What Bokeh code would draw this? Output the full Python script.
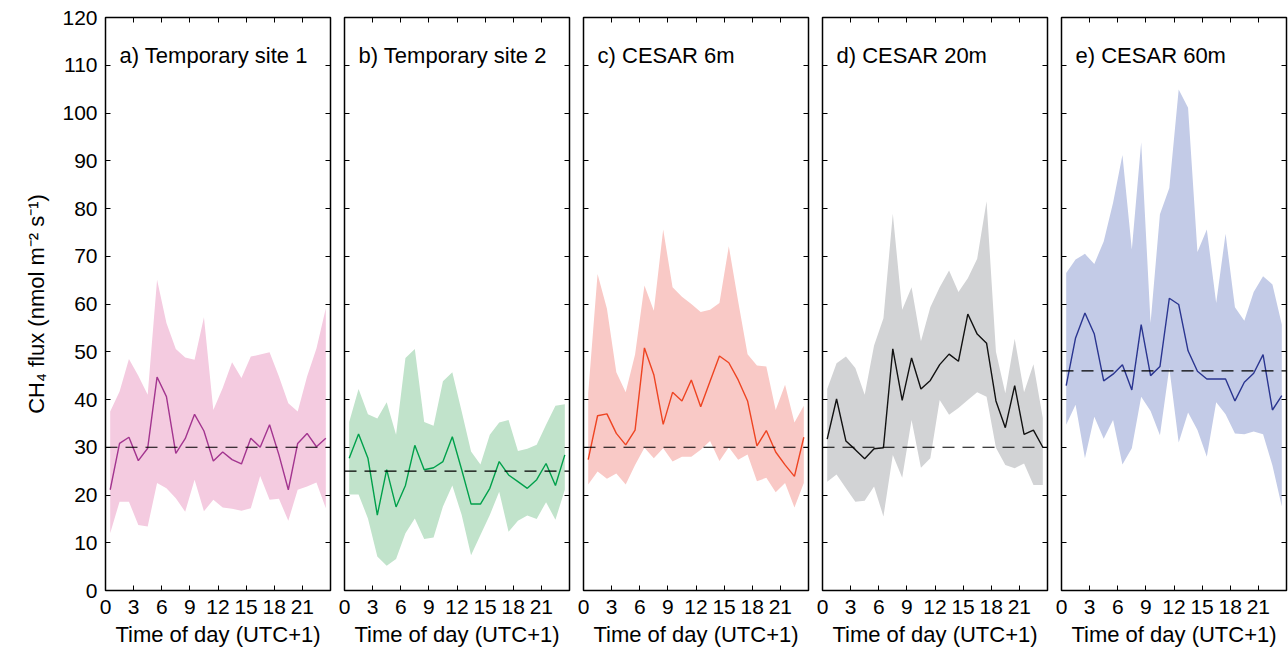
from bokeh.plotting import figure
from bokeh.layouts import row
from bokeh.models import Range1d, FixedTicker, LinearAxis, Label
from bokeh.embed import file_html
from bokeh.resources import INLINE

# ---------------- data ----------------
hours = [0.5, 1.5, 2.5, 3.5, 4.5, 5.5, 6.5, 7.5, 8.5, 9.5, 10.5, 11.5,
         12.5, 13.5, 14.5, 15.5, 16.5, 17.5, 18.5, 19.5, 20.5, 21.5, 22.5, 23.5]
x_ticks = [0, 3, 6, 9, 12, 15, 18, 21]
y_ticks = [0, 10, 20, 30, 40, 50, 60, 70, 80, 90, 100, 110, 120]
span_x = [0, 24]

titles = ["a) Temporary site 1", "b) Temporary site 2", "c) CESAR 6m",
          "d) CESAR 20m", "e) CESAR 60m"]

a_mean = [21.1, 30.8, 32.1, 27.2, 29.8, 44.7, 40.6, 28.7, 31.8, 36.9, 33.4, 27.1,
          29.0, 27.4, 26.5, 31.9, 30.0, 34.7, 28.4, 21.1, 30.8, 32.9, 30.1, 31.9]
a_high = [37.5, 41.7, 48.5, 45.0, 41.0, 65.1, 56.0, 50.6, 48.8, 48.3, 57.2, 37.8,
          42.4, 47.8, 44.5, 49.0, 49.4, 49.9, 44.8, 39.2, 37.5, 44.8, 50.7, 59.1]
a_low = [12.0, 18.6, 18.6, 13.7, 13.4, 22.5, 21.4, 19.3, 16.5, 23.2, 16.6, 19.0,
         17.4, 17.1, 16.7, 17.2, 24.0, 19.0, 19.2, 14.6, 21.1, 21.8, 22.6, 17.2]
a_ref = 30

b_mean = [27.7, 32.8, 27.7, 15.8, 25.3, 17.5, 22.0, 30.4, 25.3, 25.7, 27.0, 32.2,
          25.3, 18.1, 18.1, 21.4, 27.0, 24.2, 22.8, 21.4, 23.2, 26.6, 22.0, 28.4]
b_high = [35.3, 42.2, 36.9, 36.0, 39.4, 32.6, 48.7, 50.6, 35.3, 34.5, 43.8, 45.7,
          37.5, 29.1, 26.4, 32.6, 35.2, 35.7, 29.2, 29.7, 30.5, 34.7, 38.7, 39.0]
b_low = [20.1, 20.1, 15.1, 7.1, 5.2, 6.6, 12.0, 15.1, 10.8, 11.1, 17.6, 22.0,
         15.8, 7.4, 11.6, 15.8, 20.7, 12.3, 14.6, 15.7, 15.0, 18.5, 14.8, 21.1]
b_ref = 25

c_mean = [27.4, 36.6, 37.0, 32.9, 30.5, 33.6, 50.8, 45.2, 34.8, 41.5, 39.7, 44.1,
          38.5, 43.8, 49.1, 47.7, 44.1, 39.7, 30.3, 33.5, 29.0, 26.3, 23.9, 32.1]
c_high = [41.3, 66.3, 59.0, 45.7, 41.5, 49.4, 63.9, 58.6, 75.6, 63.5, 61.5, 60.0,
          58.3, 58.8, 60.2, 72.1, 60.5, 49.5, 47.1, 46.9, 37.8, 43.1, 35.2, 38.7]
c_low = [22.2, 24.9, 23.4, 24.5, 22.2, 26.3, 29.9, 27.7, 29.8, 27.0, 28.0, 28.0,
         29.5, 31.3, 27.1, 30.0, 27.4, 28.5, 22.9, 23.6, 20.6, 22.5, 17.4, 22.5]
c_ref = 30

d_mean = [31.7, 40.1, 31.3, 29.5, 27.6, 29.7, 29.9, 50.6, 39.8, 48.7, 42.2, 44.0,
          47.3, 49.5, 48.0, 57.9, 53.7, 51.8, 39.7, 34.1, 42.9, 32.7, 33.6, 30.0]
d_high = [42.2, 47.6, 49.0, 46.6, 41.0, 51.3, 57.0, 78.9, 58.8, 63.5, 52.2, 59.3,
          63.5, 67.0, 62.5, 65.4, 69.5, 81.5, 50.0, 41.3, 52.7, 41.5, 47.4, 36.1]
d_low = [22.8, 24.3, 21.4, 18.6, 18.8, 21.8, 15.5, 28.4, 23.6, 35.7, 25.7, 27.7,
         39.9, 36.8, 38.2, 39.9, 41.5, 40.6, 29.9, 26.3, 25.6, 26.6, 22.1, 22.1]
d_ref = 30

e_mean = [42.9, 52.9, 58.1, 53.7, 43.9, 45.3, 47.3, 42.0, 55.7, 45.0, 46.9, 61.2,
          59.9, 50.2, 45.9, 44.3, 44.3, 44.3, 39.7, 43.6, 45.5, 49.4, 37.8, 40.8]
e_high = [66.5, 69.3, 70.5, 68.4, 73.1, 81.2, 91.2, 71.4, 93.9, 56.0, 78.8, 84.3,
          104.9, 101.1, 70.9, 75.6, 60.2, 74.7, 59.3, 56.5, 62.5, 65.8, 64.1, 55.7]
e_low = [34.7, 38.9, 27.7, 36.4, 31.8, 35.7, 26.4, 29.8, 40.6, 37.6, 32.5, 46.6,
         31.0, 37.3, 33.6, 28.0, 39.4, 36.9, 32.9, 32.7, 33.3, 32.7, 26.2, 17.6]
e_ref = 46

means = [a_mean, b_mean, c_mean, d_mean, e_mean]
highs = [a_high, b_high, c_high, d_high, e_high]
lows = [a_low, b_low, c_low, d_low, e_low]
refs = [a_ref, b_ref, c_ref, d_ref, e_ref]

fill_colors = ["#F4CBE0", "#C1E3CB", "#F9C9C6", "#D2D3D5", "#C3CBE7"]
line_colors = ["#A3358F", "#00A04B", "#EE4422", "#111111", "#2A3590"]

FONT = "Liberation Sans"
TICK_FS = "21px"
TEXT_FS = "22px"


def style_axis(ax, labels=True):
    ax.axis_line_color = None
    ax.major_tick_in = 5
    ax.major_tick_out = 0
    ax.major_tick_line_color = "black"
    ax.major_tick_line_width = 1
    ax.minor_tick_line_color = None
    ax.major_label_text_font = FONT
    if labels:
        ax.major_label_text_color = "black"
        ax.major_label_text_font_size = TICK_FS
    else:
        # tick marks only: labels are not painted and take no space
        ax.major_label_text_color = None
        ax.major_label_text_alpha = 0
        ax.major_label_text_font_size = "0px"
        ax.major_label_standoff = 0


panels = []
for i in range(5):
    first = i == 0
    last = i == 4
    p = figure(frame_width=225, frame_height=573,
               x_range=Range1d(0, 24), y_range=Range1d(0, 120),
               output_backend="svg", toolbar_location=None,
               min_border_left=105 if first else 7,
               min_border_right=2 if last else 7,
               min_border_top=17, min_border_bottom=61)
    p.background_fill_color = "white"
    p.border_fill_color = "white"
    p.outline_line_color = "black"
    p.outline_line_width = 1.5
    p.grid.visible = False

    # bottom axis
    xa = p.xaxis[0]
    xa.ticker = FixedTicker(ticks=x_ticks)
    style_axis(xa, True)
    xa.major_label_standoff = 9
    xa.axis_label = "Time of day (UTC+1)"
    xa.axis_label_text_font = FONT
    xa.axis_label_text_font_size = TEXT_FS
    xa.axis_label_text_font_style = "normal"
    xa.axis_label_text_color = "black"
    xa.axis_label_standoff = 5

    # left axis
    ya = p.yaxis[0]
    ya.ticker = FixedTicker(ticks=y_ticks)
    style_axis(ya, first)
    if first:
        ya.major_label_standoff = 8
        ya.axis_label = "CH\u2084 flux (nmol m\u207b\u00b2 s\u207b\u00b9)"
        ya.axis_label_text_font = FONT
        ya.axis_label_text_font_size = TEXT_FS
        ya.axis_label_text_font_style = "normal"
        ya.axis_label_text_color = "black"
        ya.axis_label_standoff = 10

    # top and right tick-only axes
    ta = LinearAxis(ticker=FixedTicker(ticks=x_ticks))
    style_axis(ta, False)
    p.add_layout(ta, "above")
    ra = LinearAxis(ticker=FixedTicker(ticks=y_ticks))
    style_axis(ra, False)
    p.add_layout(ra, "right")

    p.varea(x=hours, y1=lows[i], y2=highs[i], fill_color=fill_colors[i],
            fill_alpha=1.0)
    p.line(hours, means[i], line_color=line_colors[i], line_width=1.4)
    p.line(span_x, [refs[i], refs[i]], line_color="black", line_width=1.2,
           line_dash="12 8")

    p.add_layout(Label(x=1.5, y=112, text=titles[i], text_font=FONT,
                       text_font_size=TEXT_FS, text_color="black",
                       text_baseline="alphabetic"))
    panels.append(p)

layout = row(*panels)
open("out.html", "w").write(file_html(layout, INLINE))
